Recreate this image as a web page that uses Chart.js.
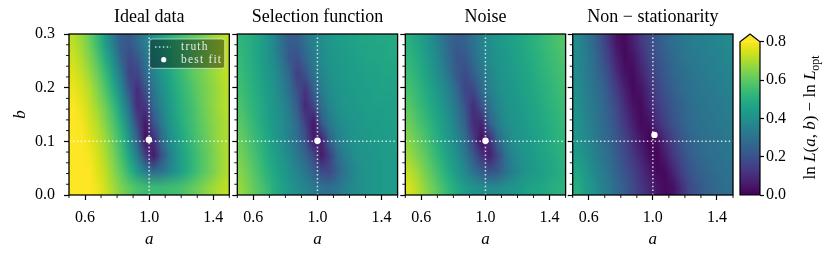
<!DOCTYPE html>
<html>
<head>
<meta charset="utf-8">
<script src="https://cdn.jsdelivr.net/npm/chart.js@4.4.0/dist/chart.umd.min.js"></script>
<style>
  html, body { margin: 0; padding: 0; background: #fff; }
  #wrap { position: relative; width: 830px; height: 258px; }
  #wrap canvas { position: absolute; left: 0; top: 0; }
</style>
</head>
<body>
<div id="wrap">
  <canvas id="panel0" width="830" height="258"></canvas>
  <canvas id="panel1" width="830" height="258"></canvas>
  <canvas id="panel2" width="830" height="258"></canvas>
  <canvas id="panel3" width="830" height="258"></canvas>
  <canvas id="cbar" width="830" height="258"></canvas>
</div>
<script>
// values: ln L(a,b) - ln L_opt on a 20 x 10 grid
const aCenters = [0.525, 0.575, 0.625, 0.675, 0.725, 0.775, 0.825, 0.875, 0.925, 0.975,
                  1.025, 1.075, 1.125, 1.175, 1.225, 1.275, 1.325, 1.375, 1.425, 1.475];
const bCenters = [0.285, 0.255, 0.225, 0.195, 0.165, 0.135, 0.105, 0.075, 0.045, 0.015]; // top row first
const aRange = [0.5, 1.5];
const bRange = [0, 0.3];
const aMajorTicks = [0.6, 1.0, 1.4];
const aMinorTicks = [0.5, 0.7, 0.8, 0.9, 1.1, 1.2, 1.3, 1.5];
const bMajorTicks = [0, 0.1, 0.2, 0.3];
const bMinorTicks = [0.02, 0.04, 0.06, 0.08, 0.12, 0.14, 0.16, 0.18, 0.22, 0.24, 0.26, 0.28];
const cbarTicks = [0, 0.2, 0.4, 0.6, 0.8];
const cbarMax = 0.8;
const panelTitles = ["Ideal data", "Selection function", "Noise", "Non \u2212 stationarity"];
const truthA = 1.0;
const truthB = 0.1;
const bestFitA = [0.998, 1.0, 1.0, 1.01];
const bestFitB = [0.103, 0.101, 0.101, 0.112];

const gridIdeal = [
  [0.72,0.68,0.62,0.54,0.44,0.33,0.23,0.22,0.28,0.35,0.41,0.46,0.50,0.54,0.57,0.60,0.63,0.66,0.69,0.72],
  [0.74,0.70,0.65,0.58,0.49,0.38,0.25,0.17,0.22,0.31,0.38,0.44,0.49,0.53,0.56,0.60,0.63,0.66,0.69,0.72],
  [0.76,0.73,0.68,0.62,0.54,0.44,0.31,0.16,0.16,0.27,0.35,0.42,0.47,0.52,0.56,0.60,0.63,0.66,0.69,0.72],
  [0.78,0.75,0.71,0.65,0.58,0.49,0.37,0.21,0.10,0.20,0.31,0.39,0.45,0.50,0.54,0.58,0.62,0.65,0.68,0.71],
  [0.80,0.77,0.73,0.68,0.62,0.54,0.43,0.28,0.10,0.13,0.27,0.36,0.43,0.49,0.53,0.57,0.61,0.65,0.68,0.71],
  [0.82,0.79,0.75,0.71,0.65,0.58,0.49,0.35,0.17,0.05,0.20,0.32,0.41,0.47,0.52,0.56,0.60,0.64,0.67,0.70],
  [0.84,0.81,0.77,0.73,0.68,0.61,0.53,0.41,0.25,0.04,0.10,0.27,0.38,0.45,0.50,0.55,0.59,0.63,0.67,0.70],
  [0.85,0.82,0.79,0.75,0.70,0.64,0.56,0.46,0.33,0.15,0.06,0.20,0.33,0.42,0.48,0.53,0.58,0.62,0.66,0.70],
  [0.86,0.83,0.80,0.76,0.72,0.66,0.60,0.52,0.43,0.34,0.27,0.30,0.36,0.42,0.48,0.53,0.58,0.62,0.66,0.70],
  [0.86,0.84,0.81,0.78,0.74,0.69,0.64,0.60,0.57,0.55,0.54,0.54,0.55,0.56,0.58,0.61,0.64,0.67,0.70,0.72]
];
const gridSelection = [
  [0.52,0.50,0.47,0.43,0.37,0.29,0.23,0.24,0.30,0.35,0.39,0.42,0.44,0.45,0.46,0.47,0.47,0.48,0.48,0.49],
  [0.53,0.50,0.47,0.43,0.38,0.31,0.22,0.19,0.26,0.33,0.38,0.41,0.43,0.44,0.45,0.46,0.47,0.47,0.48,0.48],
  [0.54,0.51,0.48,0.44,0.40,0.34,0.26,0.15,0.20,0.30,0.36,0.40,0.42,0.44,0.45,0.45,0.46,0.46,0.47,0.47],
  [0.55,0.52,0.49,0.45,0.41,0.36,0.29,0.19,0.12,0.24,0.33,0.38,0.41,0.43,0.44,0.45,0.45,0.46,0.46,0.46],
  [0.57,0.53,0.50,0.46,0.42,0.38,0.32,0.23,0.09,0.16,0.29,0.36,0.40,0.42,0.43,0.44,0.45,0.45,0.45,0.45],
  [0.59,0.55,0.51,0.47,0.43,0.39,0.34,0.27,0.15,0.05,0.22,0.32,0.37,0.40,0.42,0.43,0.44,0.44,0.45,0.45],
  [0.61,0.57,0.53,0.49,0.44,0.40,0.35,0.29,0.20,0.06,0.08,0.25,0.34,0.38,0.41,0.42,0.43,0.44,0.44,0.45],
  [0.63,0.59,0.55,0.50,0.46,0.42,0.37,0.32,0.26,0.17,0.06,0.15,0.28,0.35,0.39,0.41,0.42,0.43,0.44,0.44],
  [0.65,0.61,0.57,0.52,0.48,0.44,0.40,0.36,0.31,0.25,0.18,0.17,0.25,0.32,0.37,0.40,0.42,0.43,0.44,0.44],
  [0.67,0.63,0.59,0.55,0.50,0.46,0.42,0.39,0.36,0.33,0.30,0.29,0.31,0.35,0.38,0.40,0.42,0.43,0.44,0.44]
];
const gridNoise = [
  [0.50,0.47,0.43,0.38,0.32,0.26,0.23,0.25,0.30,0.35,0.39,0.42,0.44,0.46,0.48,0.50,0.52,0.54,0.56,0.58],
  [0.52,0.49,0.45,0.40,0.34,0.27,0.21,0.22,0.28,0.34,0.38,0.41,0.43,0.45,0.47,0.49,0.51,0.53,0.55,0.57],
  [0.54,0.51,0.47,0.42,0.37,0.30,0.22,0.18,0.24,0.31,0.36,0.40,0.42,0.44,0.46,0.48,0.50,0.52,0.54,0.56],
  [0.56,0.53,0.49,0.45,0.40,0.34,0.26,0.16,0.17,0.27,0.34,0.38,0.41,0.43,0.45,0.47,0.49,0.51,0.53,0.55],
  [0.59,0.55,0.51,0.47,0.43,0.37,0.30,0.20,0.10,0.20,0.30,0.36,0.40,0.42,0.44,0.46,0.48,0.50,0.52,0.54],
  [0.62,0.58,0.54,0.50,0.45,0.40,0.33,0.24,0.10,0.08,0.24,0.33,0.38,0.41,0.43,0.45,0.47,0.49,0.51,0.53],
  [0.65,0.61,0.57,0.52,0.47,0.42,0.36,0.28,0.15,0.03,0.10,0.26,0.35,0.40,0.42,0.44,0.46,0.48,0.50,0.52],
  [0.68,0.64,0.60,0.55,0.50,0.45,0.39,0.32,0.22,0.12,0.07,0.17,0.30,0.37,0.41,0.43,0.45,0.47,0.49,0.51],
  [0.72,0.68,0.63,0.58,0.53,0.48,0.43,0.37,0.30,0.24,0.20,0.22,0.29,0.35,0.39,0.42,0.44,0.46,0.48,0.50],
  [0.75,0.71,0.66,0.62,0.57,0.52,0.48,0.44,0.41,0.39,0.38,0.38,0.40,0.42,0.44,0.46,0.47,0.48,0.50,0.51]
];
const gridNonStationary = [
  [0.38,0.33,0.27,0.20,0.12,0.04,0.02,0.07,0.13,0.18,0.22,0.26,0.29,0.31,0.33,0.34,0.35,0.36,0.37,0.38],
  [0.38,0.34,0.29,0.22,0.15,0.07,0.02,0.04,0.10,0.16,0.20,0.24,0.27,0.30,0.32,0.33,0.34,0.35,0.36,0.37],
  [0.38,0.34,0.30,0.25,0.18,0.10,0.04,0.02,0.07,0.13,0.18,0.22,0.26,0.28,0.30,0.32,0.33,0.34,0.35,0.36],
  [0.39,0.35,0.31,0.27,0.21,0.14,0.07,0.02,0.04,0.10,0.16,0.20,0.24,0.27,0.29,0.31,0.32,0.33,0.34,0.35],
  [0.40,0.36,0.32,0.28,0.23,0.17,0.10,0.04,0.02,0.07,0.13,0.18,0.22,0.25,0.28,0.30,0.31,0.32,0.33,0.34],
  [0.41,0.37,0.33,0.29,0.25,0.19,0.13,0.07,0.02,0.03,0.10,0.15,0.20,0.24,0.27,0.29,0.30,0.31,0.32,0.33],
  [0.42,0.38,0.34,0.30,0.26,0.21,0.16,0.10,0.05,0.01,0.03,0.10,0.16,0.21,0.25,0.28,0.29,0.30,0.31,0.32],
  [0.44,0.40,0.36,0.32,0.28,0.23,0.18,0.13,0.08,0.03,0.01,0.06,0.13,0.18,0.23,0.26,0.28,0.29,0.30,0.31],
  [0.47,0.43,0.38,0.34,0.30,0.25,0.20,0.16,0.11,0.06,0.02,0.02,0.08,0.15,0.20,0.24,0.26,0.28,0.29,0.30],
  [0.50,0.45,0.41,0.36,0.32,0.27,0.23,0.18,0.13,0.09,0.05,0.02,0.03,0.10,0.17,0.21,0.24,0.26,0.28,0.29]
];
const panelGrids = [gridIdeal, gridSelection, gridNoise, gridNonStationary];

// layout
const panelLeft = [69, 237.3, 405.3, 572.7];
const panelWidth = 160.3;
const plotTop = 34, plotBottom = 195;
const yAxisW = 60, xAxisH = 55;
const truthColor = "rgba(255,255,255,0.78)";
const truthDash = [1.5, 2.4];

Chart.defaults.font.family = "'Liberation Serif', serif";
Chart.defaults.color = "#000";

const viridisStops = ["#440154","#471365","#482475","#463480","#414487","#3b528b","#355f8d",
  "#2f6c8e","#2a788e","#25848e","#21918c","#1e9c89","#22a884","#2fb47c","#44bf70","#5ec962",
  "#7ad151","#9bd93c","#bddf26","#dfe318","#fde725"];

function hexToRgb(h) {
  return [parseInt(h.slice(1,3),16), parseInt(h.slice(3,5),16), parseInt(h.slice(5,7),16)];
}
function viridis(t) {
  t = Math.min(1, Math.max(0, t));
  const f = t * (viridisStops.length - 1);
  const i = Math.min(viridisStops.length - 2, Math.floor(f));
  const u = f - i;
  const c0 = hexToRgb(viridisStops[i]), c1 = hexToRgb(viridisStops[i+1]);
  return c0.map((v,k) => Math.round(v + (c1[k]-v)*u));
}

// heatmap image placed with the chart's scales
const heatmapPlugin = {
  id: "heatmap",
  beforeDatasetsDraw(chart, args, opts) {
    const grid = opts.grid;
    if (!grid) return;
    const {ctx, chartArea, scales: {x, y}} = chart;
    const nx = aCenters.length, ny = bCenters.length;
    const off = document.createElement("canvas");
    off.width = nx; off.height = ny;
    const octx = off.getContext("2d");
    const img = octx.createImageData(nx, ny);
    for (let j = 0; j < ny; j++) {
      for (let i = 0; i < nx; i++) {
        const c = viridis(grid[j][i] / cbarMax);
        const k = (j*nx + i) * 4;
        img.data[k] = c[0]; img.data[k+1] = c[1]; img.data[k+2] = c[2]; img.data[k+3] = 255;
      }
    }
    octx.putImageData(img, 0, 0);
    const x0 = x.getPixelForValue(aRange[0]), x1 = x.getPixelForValue(aRange[1]);
    const y0 = y.getPixelForValue(bRange[1]), y1 = y.getPixelForValue(bRange[0]);
    ctx.save();
    ctx.beginPath();
    ctx.rect(chartArea.left, chartArea.top, chartArea.width, chartArea.height);
    ctx.clip();
    ctx.imageSmoothingEnabled = true;
    ctx.drawImage(off, x0, y0, x1 - x0, y1 - y0);
    ctx.restore();
  }
};

// black frame + minor ticks
const framePlugin = {
  id: "frame",
  afterDraw(chart) {
    const {ctx, chartArea: {left, right, top, bottom}, scales: {x, y}} = chart;
    ctx.save();
    ctx.strokeStyle = "#000";
    ctx.lineWidth = 0.9;
    ctx.beginPath();
    aMinorTicks.forEach(v => {
      const px = x.getPixelForValue(v);
      ctx.moveTo(px, bottom); ctx.lineTo(px, bottom + 3);
    });
    bMinorTicks.forEach(v => {
      const py = y.getPixelForValue(v);
      ctx.moveTo(left, py); ctx.lineTo(left - 3, py);
    });
    ctx.stroke();
    ctx.lineWidth = 1.3;
    ctx.strokeRect(left, top, right - left, bottom - top);
    ctx.restore();
  }
};

// legend box inside the first panel
const boxLegendPlugin = {
  id: "boxLegend",
  afterDatasetsDraw(chart, args, opts) {
    if (!opts.show) return;
    const {ctx, chartArea} = chart;
    const w = 75, h = 29.3;
    const bx = chartArea.right - 4.6 - w, by = chartArea.top + 5;
    ctx.save();
    ctx.beginPath();
    ctx.roundRect(bx, by, w, h, 2.5);
    ctx.fillStyle = "rgba(0,0,0,0.4)";
    ctx.fill();
    ctx.strokeStyle = "rgba(255,255,255,0.55)";
    ctx.lineWidth = 1;
    ctx.stroke();
    const labels = chart.data.datasets.map(d => d.label);
    const truthLabel = labels.find(l => l === "truth");
    const fitLabel = labels.find(l => l === "best fit");
    // truth sample
    ctx.strokeStyle = truthColor;
    ctx.lineWidth = 1.5;
    ctx.setLineDash(truthDash);
    ctx.beginPath();
    ctx.moveTo(bx + 5.3, by + 8); ctx.lineTo(bx + 21.3, by + 8);
    ctx.stroke();
    ctx.setLineDash([]);
    // best fit sample
    ctx.fillStyle = "#fff";
    ctx.beginPath();
    ctx.arc(bx + 14, by + 20.7, 2.6, 0, Math.PI*2);
    ctx.fill();
    ctx.fillStyle = "#e8e8e8";
    ctx.font = "11.5px 'Liberation Serif'";
    ctx.letterSpacing = "1.2px";
    ctx.textBaseline = "middle";
    ctx.fillText(truthLabel, bx + 31.3, by + 8);
    ctx.fillText(fitLabel, bx + 31.3, by + 20.7);
    ctx.restore();
  }
};

function makePanel(i) {
  const left = panelLeft[i], right = left + panelWidth;
  return new Chart(document.getElementById("panel" + i), {
    type: "scatter",
    data: {
      datasets: [
        {
          label: "best fit",
          data: [{x: bestFitA[i], y: bestFitB[i]}],
          pointRadius: 3.2,
          pointBackgroundColor: "#fff",
          pointBorderWidth: 0
        },
        {
          label: "truth",
          data: [{x: truthA, y: bRange[0]}, {x: truthA, y: bRange[1]}],
          showLine: true, pointRadius: 0,
          borderColor: truthColor, borderWidth: 1.5, borderDash: truthDash
        },
        {
          label: "truth",
          data: [{x: aRange[0], y: truthB}, {x: aRange[1], y: truthB}],
          showLine: true, pointRadius: 0,
          borderColor: truthColor, borderWidth: 1.5, borderDash: truthDash
        }
      ]
    },
    options: {
      responsive: false,
      animation: false,
      events: [],
      layout: {
        padding: {left: left - yAxisW, right: 830 - right, top: 6.5, bottom: 258 - plotBottom - xAxisH}
      },
      plugins: {
        legend: {display: false},
        tooltip: {enabled: false},
        title: {
          display: true, text: panelTitles[i], fullSize: false,
          font: {size: 18, weight: "normal"}, padding: {top: 0, bottom: 5.9}, color: "#000"
        },
        heatmap: {grid: panelGrids[i]},
        boxLegend: {show: i === 0}
      },
      scales: {
        x: {
          type: "linear", min: aRange[0], max: aRange[1],
          afterBuildTicks: s => { s.ticks = aMajorTicks.map(v => ({value: v})); },
          afterFit: s => { s.height = xAxisH; },
          ticks: {font: {size: 16}, padding: 8, maxRotation: 0, autoSkip: false, callback: v => v.toFixed(1)},
          grid: {drawOnChartArea: false, drawTicks: true, tickLength: 5, tickColor: "#000", tickWidth: 1.2},
          border: {display: false},
          title: {display: true, text: "a", font: {size: 17, style: "italic"}, padding: 0, color: "#000"}
        },
        y: {
          type: "linear", min: bRange[0], max: bRange[1],
          afterBuildTicks: s => { s.ticks = bMajorTicks.map(v => ({value: v})); },
          afterFit: s => { s.width = yAxisW; },
          ticks: {display: i === 0, font: {size: 16}, padding: 9, autoSkip: false, callback: v => v.toFixed(1)},
          grid: {drawOnChartArea: false, drawTicks: true, tickLength: 5, tickColor: "#000", tickWidth: 1.2},
          border: {display: false},
          title: {display: i === 0, text: "b", font: {size: 17, style: "italic"}, padding: {top: 1, bottom: 0}, color: "#000"}
        }
      }
    },
    plugins: [heatmapPlugin, framePlugin, boxLegendPlugin]
  });
}

for (let i = 0; i < 4; i++) makePanel(i);

// colorbar
const colorbarPlugin = {
  id: "colorbar",
  afterDraw(chart) {
    const {ctx, chartArea: {left, right, top, bottom}, scales: {y}} = chart;
    const y0 = y.getPixelForValue(0), y1 = y.getPixelForValue(cbarMax);
    const grad = ctx.createLinearGradient(0, y0, 0, y1);
    viridisStops.forEach((c, k) => grad.addColorStop(k / (viridisStops.length - 1), c));
    const apex = y1 - 7.7;
    const mid = (left + right) / 2;
    ctx.save();
    ctx.fillStyle = grad;
    ctx.fillRect(left, y1, right - left, y0 - y1);
    ctx.fillStyle = viridisStops[viridisStops.length - 1];
    ctx.beginPath();
    ctx.moveTo(left, y1); ctx.lineTo(mid, apex); ctx.lineTo(right, y1); ctx.closePath();
    ctx.fill();
    ctx.strokeStyle = "#000";
    ctx.lineWidth = 1.2;
    ctx.beginPath();
    ctx.moveTo(left, y0); ctx.lineTo(left, y1); ctx.lineTo(mid, apex);
    ctx.lineTo(right, y1); ctx.lineTo(right, y0); ctx.closePath();
    ctx.stroke();

    // label: ln L(a, b) − ln L_opt
    const pieces = [
      {t: "ln ", f: "17px 'Liberation Serif'", dy: 0},
      {t: "L", f: "italic 17px 'Liberation Serif'", dy: 0},
      {t: "(", f: "17px 'Liberation Serif'", dy: 0},
      {t: "a", f: "italic 17px 'Liberation Serif'", dy: 0},
      {t: ", ", f: "17px 'Liberation Serif'", dy: 0},
      {t: "b", f: "italic 17px 'Liberation Serif'", dy: 0},
      {t: ") \u2212 ln ", f: "17px 'Liberation Serif'", dy: 0},
      {t: "L", f: "italic 17px 'Liberation Serif'", dy: 0},
      {t: "opt", f: "12px 'Liberation Serif'", dy: 4}
    ];
    let total = 0;
    pieces.forEach(p => { ctx.font = p.f; p.w = ctx.measureText(p.t).width; total += p.w; });
    ctx.translate(810, (y0 + y1) / 2 - 1);
    ctx.rotate(-Math.PI / 2);
    ctx.fillStyle = "#000";
    ctx.textBaseline = "alphabetic";
    let cx = -total / 2;
    pieces.forEach(p => { ctx.font = p.f; ctx.fillText(p.t, cx, 5 + p.dy); cx += p.w; });
    ctx.restore();
  }
};

new Chart(document.getElementById("cbar"), {
  type: "scatter",
  data: {datasets: []},
  options: {
    responsive: false,
    animation: false,
    events: [],
    layout: {padding: {left: 740, right: 0, top: 41.7, bottom: 258 - plotBottom}},
    plugins: {legend: {display: false}, tooltip: {enabled: false}},
    scales: {
      x: {display: false, min: 0, max: 1},
      y: {
        position: "right", min: 0, max: cbarMax,
        afterBuildTicks: s => { s.ticks = cbarTicks.map(v => ({value: v})); },
        afterFit: s => { s.width = 70; },
        ticks: {font: {size: 16}, padding: 2, autoSkip: false, callback: v => v.toFixed(1)},
        grid: {drawOnChartArea: false, drawTicks: true, tickLength: 4, tickColor: "#000", tickWidth: 1.2},
        border: {display: false}
      }
    }
  },
  plugins: [colorbarPlugin]
});
</script>
</body>
</html>
